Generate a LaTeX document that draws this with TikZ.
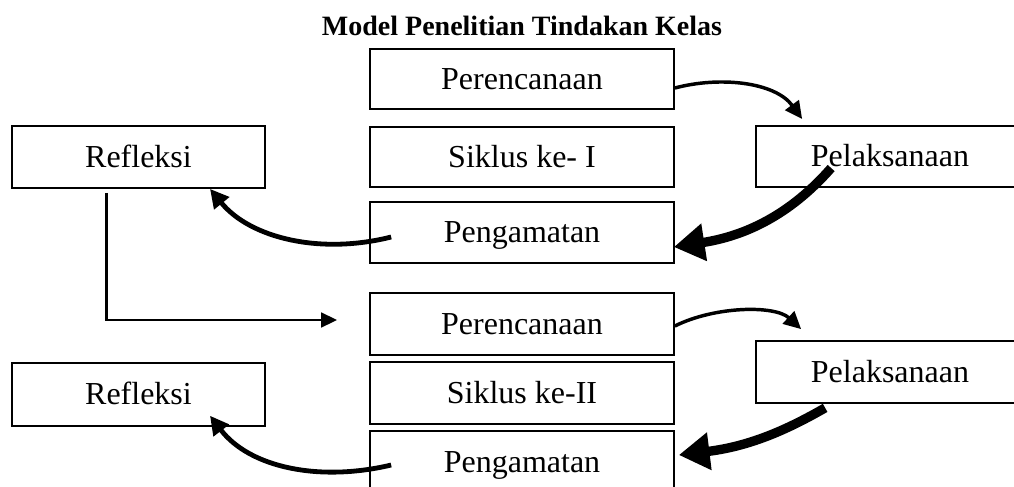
\documentclass[tikz,border=0pt]{standalone}
\usepackage{fontspec}
\setmainfont{Liberation Serif}
\usetikzlibrary{arrows.meta,calc}
\begin{document}
\begin{tikzpicture}[x=0.75pt,y=-0.75pt,
  box/.style={draw, line width=1.3pt, inner sep=0pt, minimum width=228pt, minimum height=45pt,
    text height=16pt, text depth=1pt, font=\fontsize{24}{28}\selectfont},
  sidebox/.style={box, minimum width=190pt, minimum height=46.5pt},
  pelbox/.style={box, minimum width=201pt, minimum height=46pt},
  arrA/.style={line width=2.6pt, -{Triangle[length=13pt,width=12.5pt]}},
  arrB/.style={line width=3.6pt, -{Triangle[length=14pt,width=14pt]}},
  arrC/.style={line width=7pt, -{Triangle[length=23pt,width=27pt]}},
  arrD/.style={line width=2pt, -{Triangle[length=12pt,width=11pt]}}]
\clip (0,0) rectangle (1014,486);
\fill[white] (0,0) rectangle (1014,486);
\node[anchor=base, font=\bfseries\fontsize{21}{24}\selectfont] (title) at (522,35) {Model Penelitian Tindakan Kelas};
% cycle I
\node[box] (per1) at (522,79) {Perencanaan};
\node[box] (sik1) at (522,157) {Siklus ke- I};
\node[box, minimum height=45.75pt] (pen1) at (522,232.5) {Pengamatan};
\node[sidebox] (ref1) at (138.5,157) {Refleksi};
\node[pelbox] (pel1) at (890,156.5) {Pelaksanaan};
% cycle II
\node[box, minimum height=46.5pt] (per2) at (522,324) {Perencanaan};
\node[box, minimum height=46.5pt] (sik2) at (522,393) {Siklus ke-II};
\node[box, minimum height=46.5pt] (pen2) at (522,462) {Pengamatan};
\node[sidebox, minimum height=47pt] (ref2) at (138.5,394.5) {Refleksi};
\node[pelbox, minimum height=46.5pt] (pel2) at (890,372) {Pelaksanaan};
% connectors cycle I
\draw[arrA] ($(per1.east)+(0,9)$) .. controls (720,76) and (775,82) .. ($(pel1.north west)+(47,-6)$);
\draw[arrC] ($(pel1.south west)+(76,-20)$) .. controls (790,215) and (745,236) .. ($(pen1.east)+(-1,14.5)$);
\draw[arrB] ($(pen1.west)+(22,4.5)$) .. controls (320,255) and (250,238) .. ($(ref1.south)+(71.5,0)$);
\coordinate (elbowend) at ($(per2.west)+(-32,-4)$);
\draw[arrD] ($(ref1.south west)+(95.7,4)$) |- (elbowend);
% connectors cycle II
\draw[arrA] ($(per2.east)+(0,2)$) .. controls (715,306) and (775,305) .. ($(pel2.north west)+(46,-11)$);
\draw[arrC] ($(pel2.south west)+(70,4)$) .. controls (790,428) and (752,446) .. ($(pen2.east)+(4,-7)$);
\draw[arrB] ($(pen2.west)+(22,3)$) .. controls (320,482) and (250,468) .. ($(ref2.south)+(71.5,-11)$);
\end{tikzpicture}
\end{document}
